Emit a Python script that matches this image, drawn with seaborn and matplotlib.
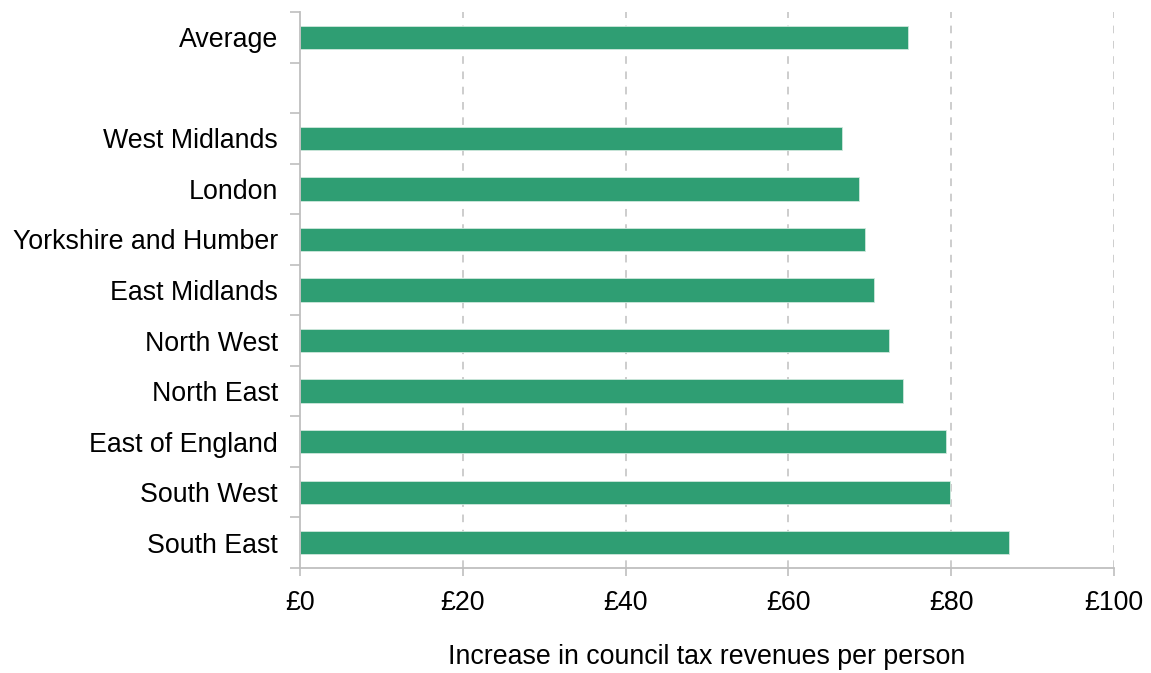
import matplotlib
matplotlib.use("Agg")
import matplotlib.pyplot as plt
import seaborn as sns
import pandas as pd
import numpy as np

categories = ["Average", " ", "West Midlands", "London", "Yorkshire and Humber",
              "East Midlands", "North West", "North East", "East of England",
              "South West", "South East"]
regions = ["Average", "West Midlands", "London", "Yorkshire and Humber",
           "East Midlands", "North West", "North East", "East of England",
           "South West", "South East"]
values = [74.7, 66.6, 68.7, 69.4, 70.5, 72.4, 74.1, 79.4, 79.8, 87.1]
x_ticks = [0, 20, 40, 60, 80, 100]
x_tick_labels = ["£0", "£20", "£40", "£60", "£80", "£100"]

sns.set_theme(style="white")
plt.rcParams["font.family"] = ["Liberation Sans", "DejaVu Sans"]

df = pd.DataFrame({"region": regions, "value": values})

fig = plt.figure(figsize=(11.51, 6.73), dpi=100)
ax = fig.add_axes([300/1151, 1 - 568/673, (1114 - 300)/1151, (568 - 12)/673])

sns.barplot(data=df, y="region", x="value", order=categories, orient="h",
            color="#2f9e73", saturation=1, width=0.46, ax=ax,
            edgecolor="#cfe8dc", linewidth=0.6)

fs = 19.3
ax.set_xlim(0, 100)
ax.set_ylim(len(categories) - 0.5, -0.5)
ax.set_xticks(x_ticks)
ax.set_xticklabels(x_tick_labels, fontsize=fs, color="#000000")
ax.tick_params(axis="y", which="major", length=0, pad=16, labelsize=fs, labelcolor="#000000")
ax.tick_params(axis="x", which="major", length=6, width=1.2, color="#bfbfbf",
               direction="out", pad=10, bottom=True)
ax.set_yticks(np.arange(-0.5, len(categories), 1.0), minor=True)
ax.tick_params(axis="y", which="minor", length=7, width=1.2, color="#bfbfbf",
               direction="out", left=True)

for x in x_ticks[1:]:
    ax.axvline(x, color="#c0c0c0", linewidth=1.1, linestyle=(0, (5, 5)), zorder=0)

for side in ["top", "right"]:
    ax.spines[side].set_visible(False)
for side in ["left", "bottom"]:
    ax.spines[side].set_color("#bfbfbf")
    ax.spines[side].set_linewidth(1.3)

ax.set_ylabel("")
ax.set_xlabel("Increase in council tax revenues per person", fontsize=fs,
              color="#000000", labelpad=20)
ax.grid(False)

fig.savefig("out.png", dpi=100)
